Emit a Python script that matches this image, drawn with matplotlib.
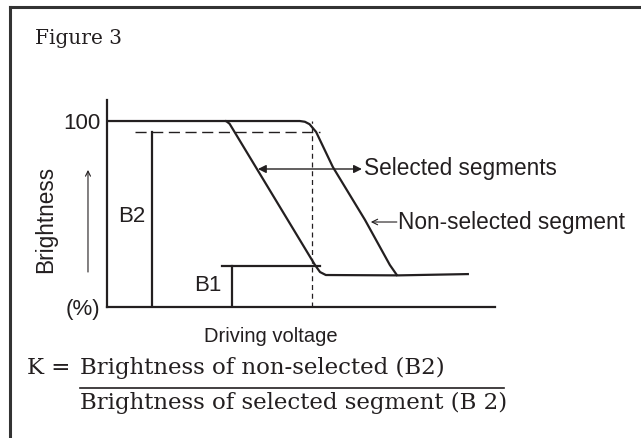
import matplotlib
matplotlib.use("Agg")
import matplotlib.pyplot as plt
from matplotlib.lines import Line2D

# curve shapes (x: driving voltage 0-100, y: brightness %)
selected_x = [0, 30.7, 31.6, 53.6, 54.9, 56.4, 75.0, 93.0]
selected_y = [100, 100, 98.5, 22.6, 18.8, 17.2, 17.0, 17.7]
nonselected_x = [30.7, 49.7, 51.0, 52.2, 53.9, 58.2, 66.5, 72.9, 74.7]
nonselected_y = [100, 100, 99.6, 98.3, 94.1, 75.3, 46.8, 22.6, 17.2]

b2_level = 94
b2_x = 11.6
dashed_x = [7.2, 55]
b1_level = 22
b1_x = [29.6, 54.9]
b1_stem = 32.2
threshold_x = 52.8

ink = "#231f20"
sans = "Liberation Sans"
serif = "DejaVu Serif"

fig = plt.figure(figsize=(6.41, 4.38), dpi=100)
W, H = 641, 438

# frame (top and left edges only)
fig.add_artist(Line2D([10 / W, 10 / W], [0, 1 - 7 / H], color="#333", lw=2.2))
fig.add_artist(Line2D([10 / W, 1], [1 - 7 / H, 1 - 7 / H], color="#333", lw=2.2))

fig.text(35 / W, 1 - 38 / H, "Figure 3", family=serif, fontsize=14.5,
         color=ink, va="center", ha="left")

ax = fig.add_axes([107 / W, (H - 307) / H, (495 - 107) / W, (307 - 100) / H])
ax.set_xlim(0, 100)
ax.set_ylim(0, 111.3)
for s in ["top", "right"]:
    ax.spines[s].set_visible(False)
for s in ["left", "bottom"]:
    ax.spines[s].set_linewidth(1.6)
    ax.spines[s].set_color(ink)
ax.set_xticks([])
ax.set_yticks([0, 100])
ax.set_yticklabels(["(%)", "100"], family=sans, fontsize=16, color=ink)
ax.tick_params(axis="y", length=0, pad=5)

ax.plot(selected_x, selected_y, color=ink, lw=1.6, solid_joinstyle="round")
ax.plot(nonselected_x, nonselected_y, color=ink, lw=1.6, solid_joinstyle="round")

ax.plot(dashed_x, [b2_level, b2_level], color=ink, lw=1.0, dashes=(8, 4))
ax.plot([b2_x, b2_x], [0, b2_level], color=ink, lw=1.6)
ax.plot(b1_x, [b1_level, b1_level], color=ink, lw=1.6)
ax.plot([b1_stem, b1_stem], [0, b1_level], color=ink, lw=1.6)
ax.plot([threshold_x, threshold_x], [0, 100], color=ink, lw=0.9, dashes=(4, 3))

ax.text(6.4, 48.9, "B2", family=sans, fontsize=16, color=ink, ha="center", va="center")
ax.text(26, 11.8, "B1", family=sans, fontsize=16, color=ink, ha="center", va="center")

# selected-segments double arrow
ax.annotate("", xy=(38.9, 74.2), xytext=(65.7, 74.2),
            arrowprops=dict(arrowstyle="<|-|>", color=ink, lw=1.0,
                            mutation_scale=12, shrinkA=0, shrinkB=0))
ax.text(66.2, 74.2, "Selected segments", family=sans, fontsize=16.3,
        color=ink, ha="left", va="center", clip_on=False)

# non-selected arrow
ax.annotate("", xy=(68.0, 45.7), xytext=(74.7, 45.7),
            arrowprops=dict(arrowstyle="->", color=ink, lw=0.8,
                            mutation_scale=10, shrinkA=0, shrinkB=0))
ax.text(74.9, 45.7, "Non-selected segment", family=sans, fontsize=16.3,
        color=ink, ha="left", va="center", clip_on=False)

# y label and arrow
ax.text(-15.7, 47.3, "Brightness", family=sans, fontsize=16.3, color=ink,
        rotation=90, ha="center", va="center", clip_on=False)
ax.annotate("", xy=(-4.9, 73.7), xytext=(-4.9, 18.8), annotation_clip=False,
            arrowprops=dict(arrowstyle="->", color=ink, lw=0.8,
                            mutation_scale=9, shrinkA=0, shrinkB=0))

ax.text(42.3, -16.1, "Driving voltage", family=sans, fontsize=14.5, color=ink,
        ha="center", va="center", clip_on=False)

# K formula
fig.text(27 / W, 1 - 368 / H, "K =", family=serif, fontsize=16.5, color=ink,
         ha="left", va="center")
fig.text(80 / W, 1 - 368 / H, "Brightness of non-selected (B2)", family=serif,
         fontsize=16.5, color=ink, ha="left", va="center")
fig.add_artist(Line2D([80 / W, 504 / W], [1 - 388 / H, 1 - 388 / H], color=ink, lw=1.2))
fig.text(80 / W, 1 - 403 / H, "Brightness of selected segment (B 2)", family=serif,
         fontsize=16.5, color=ink, ha="left", va="center")

fig.savefig("out.png", dpi=100)
